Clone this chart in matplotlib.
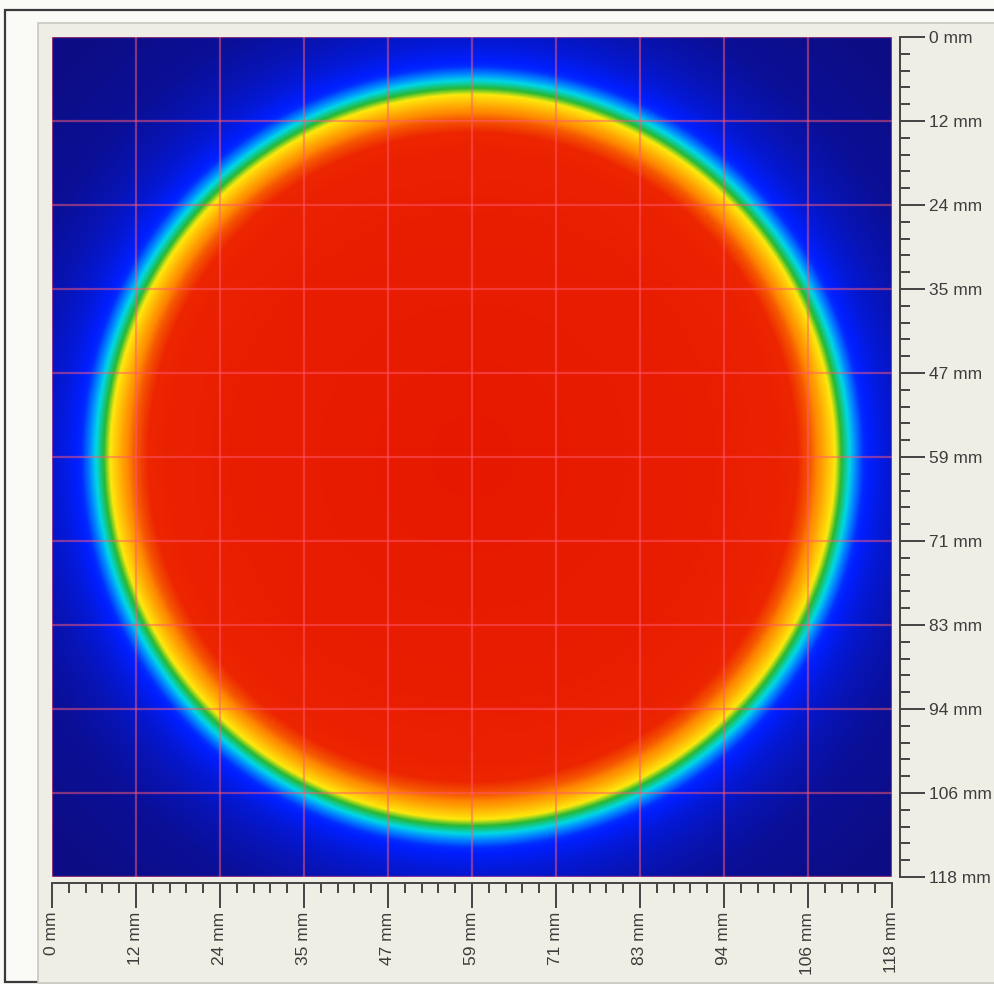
import numpy as np
import matplotlib
matplotlib.use("Agg")
import matplotlib.pyplot as plt
from matplotlib.colors import LinearSegmentedColormap
from matplotlib.patches import Rectangle
from matplotlib.ticker import FixedLocator

# beam footprint, 118 mm field of view
field_mm = 118.0
centre_mm = (59.1, 59.0)

# radial intensity profile of the flat-top beam (radius in mm, relative level)
profile_r = [0, 30, 42, 45.5, 47.5, 49, 50.9, 51.9, 53.0, 54.0, 55.0, 58.0, 62.0, 68.0, 80.0, 90.0]
profile_level = [0.96, 0.945, 0.925, 0.905, 0.85, 0.78, 0.66, 0.55, 0.45, 0.33, 0.22, 0.14, 0.08, 0.03, 0.0, 0.0]

# axis ticks: 10 divisions of the field, labels rounded to whole mm
major_ticks = [i * 11.8 for i in range(11)]
tick_labels = ["0 mm", "12 mm", "24 mm", "35 mm", "47 mm", "59 mm",
               "71 mm", "83 mm", "94 mm", "106 mm", "118 mm"]

# false-colour palette of the beam profiler
palette = [
    (0.00, (0.05, 0.05, 0.52)),
    (0.20, (0.00, 0.12, 1.00)),
    (0.35, (0.00, 0.55, 1.00)),
    (0.45, (0.00, 0.85, 0.90)),
    (0.55, (0.15, 0.72, 0.20)),
    (0.65, (1.00, 0.92, 0.05)),
    (0.80, (1.00, 0.55, 0.00)),
    (0.90, (0.93, 0.15, 0.00)),
    (1.00, (0.89, 0.07, 0.00)),
]
cmap = LinearSegmentedColormap.from_list("profiler", palette)

n = 600
xs = np.linspace(0, field_mm, n)
X, Y = np.meshgrid(xs, xs)
R = np.hypot(X - centre_mm[0], Y - centre_mm[1])
img = np.interp(R, profile_r, profile_level)

W, H = 995, 984
fig = plt.figure(figsize=(W / 100, H / 100), dpi=100)
fig.patch.set_facecolor("#fafaf7")

# window frame and inner panel
fig.add_artist(Rectangle((5 / W, 1 - 982 / H), 1.1, (982 - 10) / H, transform=fig.transFigure,
                         facecolor="#fafaf7", edgecolor="#3a3a3a", lw=1.6, zorder=0))
fig.add_artist(Rectangle((38 / W, 1 - 983 / H), 1.1, (983 - 23) / H, transform=fig.transFigure,
                         facecolor="#efeee5", edgecolor="#c8c8c0", lw=1.2, zorder=0))

ax = fig.add_axes([52 / W, 1 - 877 / H, 840 / W, 840 / H])
ax.imshow(img, cmap=cmap, vmin=0, vmax=1, extent=[0, field_mm, field_mm, 0],
          interpolation="bilinear", aspect="auto")
ax.set_xlim(0, field_mm)
ax.set_ylim(field_mm, 0)

# red measurement grid
for v in major_ticks:
    ax.axvline(v, color=(1.0, 0.35, 0.45), alpha=0.5, lw=1.6, zorder=3)
    ax.axhline(v, color=(1.0, 0.35, 0.45), alpha=0.5, lw=1.6, zorder=3)

for side in ("left", "top"):
    ax.spines[side].set_visible(False)
ax.spines["right"].set_position(("outward", 6))
ax.spines["bottom"].set_position(("outward", 4))
for side in ("right", "bottom"):
    ax.spines[side].set_color("#444444")
    ax.spines[side].set_linewidth(1.4)

minor = list(np.arange(0, field_mm + 0.01, 2.36))
ax.yaxis.tick_right()
ax.xaxis.set_major_locator(FixedLocator(major_ticks))
ax.yaxis.set_major_locator(FixedLocator(major_ticks))
ax.xaxis.set_minor_locator(FixedLocator(minor))
ax.yaxis.set_minor_locator(FixedLocator(minor))
ax.set_xticklabels(tick_labels, rotation=90, family="Liberation Sans", fontsize=12.5, color="#3c3c3c")
ax.set_yticklabels(tick_labels, family="Liberation Sans", fontsize=12.5, color="#3c3c3c")
ax.tick_params(which="major", length=18, width=1.4, color="#444444", pad=3)
ax.tick_params(which="minor", length=7, width=1.4, color="#444444")

fig.savefig("out.png", dpi=100, facecolor=fig.get_facecolor())
